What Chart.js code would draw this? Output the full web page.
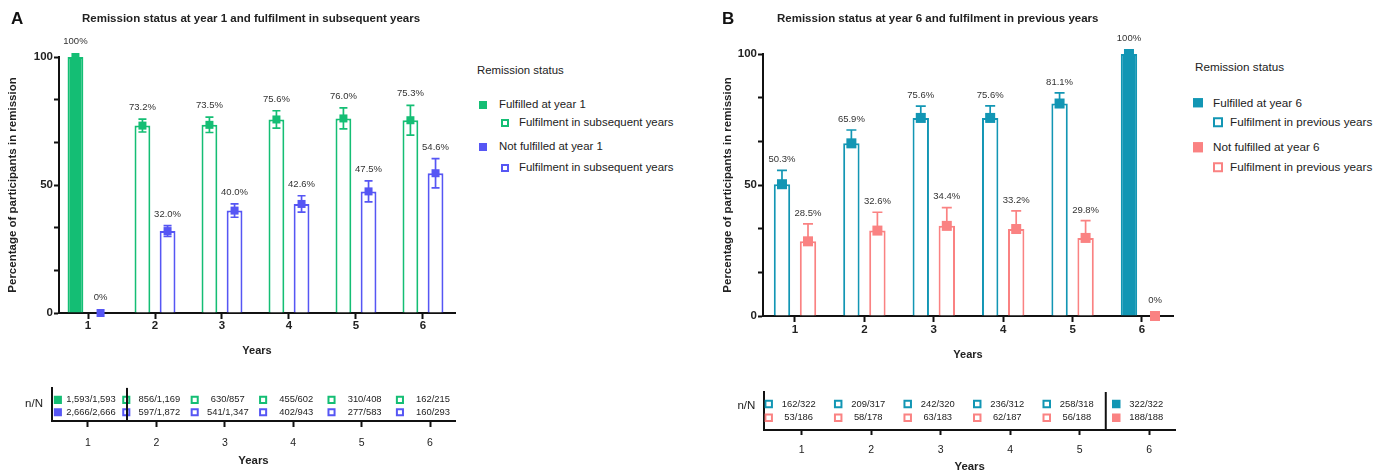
<!DOCTYPE html>
<html>
<head>
<meta charset="utf-8">
<title>Remission status</title>
<script src="https://cdn.jsdelivr.net/npm/chart.js@4.4.1/dist/chart.umd.min.js"></script>
<style>
  html, body { margin: 0; padding: 0; background: #fff; }
  body { position: relative; width: 1386px; height: 472px; overflow: hidden;
         font-family: "Liberation Sans", Arial, Helvetica, sans-serif; color: #222; }
  canvas { position: absolute; }
  .txt { position: absolute; white-space: nowrap; line-height: 1; transform: translateY(-50%); }
  .sq { position: absolute; box-sizing: border-box; transform: translateY(-50%); }
  .letter { font-size: 17px; font-weight: bold; color: #111; }
  .title { font-size: 11.5px; font-weight: bold; color: #222; }
</style>
</head>
<body>
<canvas id="mainA" width="470" height="365" style="left:0;top:0"></canvas>
<canvas id="tabA" width="470" height="100" style="left:0;top:372px"></canvas>
<canvas id="mainB" width="470" height="368" style="left:720px;top:0"></canvas>
<canvas id="tabB" width="470" height="100" style="left:720px;top:376px"></canvas>
<div id="overlay"></div>
<script>
const years = [1, 2, 3, 4, 5, 6];
const yTicks = [0, 100 / 6, 200 / 6, 50, 400 / 6, 500 / 6, 100];
const yTickLabels = [0, 50, 100];

// panel A: remission at year 1
const aFulfilled   = [100, 73.2, 73.5, 75.6, 76.0, 75.3];
const aFulfilledLo = [100, 70.7, 70.5, 72.2, 71.9, 69.5];
const aFulfilledHi = [100, 75.7, 76.5, 79.0, 80.1, 81.1];
const aNot   = [0, 32.0, 40.0, 42.6, 47.5, 54.6];
const aNotLo = [0, 29.9, 37.4, 39.4, 43.4, 48.9];
const aNotHi = [0, 34.1, 42.6, 45.8, 51.6, 60.3];
const aNFul = [1593, 856, 630, 455, 310, 162];
const aDFul = [1593, 1169, 857, 602, 408, 215];
const aNNot = [2666, 597, 541, 402, 277, 160];
const aDNot = [2666, 1872, 1347, 943, 583, 293];
const aLegend = ['Fulfilled at year 1', 'Fulfilment in subsequent years', 'Not fulfilled at year 1', 'Fulfilment in subsequent years'];

// panel B: remission at year 6
const bFulfilled   = [50.3, 65.9, 75.6, 75.6, 81.1, 100];
const bFulfilledLo = [44.8, 60.7, 70.9, 70.8, 76.8, 100];
const bFulfilledHi = [55.6, 71.0, 80.1, 80.2, 85.2, 100];
const bNot   = [28.5, 32.6, 34.4, 33.2, 29.8, 0];
const bNotLo = [22.0, 25.7, 27.5, 26.4, 23.3, 0];
const bNotHi = [35.2, 39.6, 41.4, 40.1, 36.4, 0];
const bNFul = [162, 209, 242, 236, 258, 322];
const bDFul = [322, 317, 320, 312, 318, 322];
const bNNot = [53, 58, 63, 62, 56, 188];
const bDNot = [186, 178, 183, 187, 188, 188];
const bLegend = ['Fulfilled at year 6', 'Fulfilment in previous years', 'Not fulfilled at year 6', 'Fulfilment in previous years'];

const COL = { green: '#14be74', blue: '#5656f4', teal: '#1296b4', pink: '#fa8282', axis: '#111', text: '#222' };
const FONT = '"Liberation Sans", Arial, Helvetica, sans-serif';
Chart.defaults.font.family = FONT;
Chart.defaults.color = COL.text;

const pct = v => (v === 0 || v === 100) ? v + '%' : v.toFixed(1) + '%';
const frac = (n, d) => n.toLocaleString('en-US') + '/' + d.toLocaleString('en-US');

// whiskers, square markers and % labels on top of each bar
const errorBars = {
  id: 'errorBars',
  afterDatasetsDraw(chart, args, o) {
    const ctx = chart.ctx;
    const ys = chart.scales.y;
    chart.data.datasets.forEach((ds, di) => {
      chart.getDatasetMeta(di).data.forEach((bar, i) => {
        const v = ds.data[i].y;
        const px = bar.x;
        const pv = ys.getPixelForValue(v);
        const pHi = ys.getPixelForValue(ds.errHi[i]);
        const pLo = ys.getPixelForValue(ds.errLo[i]);
        ctx.save();
        ctx.strokeStyle = ds.borderColor;
        ctx.lineWidth = o.width;
        ctx.beginPath();
        if (ds.errHi[i] > v) {
          ctx.moveTo(px, pv); ctx.lineTo(px, pHi);
          ctx.moveTo(px - o.cap / 2, pHi); ctx.lineTo(px + o.cap / 2, pHi);
        }
        if (o.twoSided && ds.errLo[i] < v) {
          ctx.moveTo(px, pv); ctx.lineTo(px, pLo);
          ctx.moveTo(px - o.cap / 2, pLo); ctx.lineTo(px + o.cap / 2, pLo);
        }
        ctx.stroke();
        ctx.fillStyle = ds.borderColor;
        ctx.fillRect(px - o.marker / 2, pv - o.marker / 2, o.marker, o.marker);
        const top = Math.min(pHi, pv - o.marker / 2);
        ctx.fillStyle = '#333';
        ctx.font = '9.5px ' + FONT;
        ctx.textAlign = 'center';
        ctx.textBaseline = 'bottom';
        ctx.fillText(pct(v), px, top - o.gap);
        ctx.restore();
      });
    });
  }
};

// n/N text next to the table squares, plus the separator line
const countLabels = {
  id: 'countLabels',
  afterDatasetsDraw(chart, args, o) {
    const ctx = chart.ctx;
    const xs = chart.scales.x;
    const area = chart.chartArea;
    ctx.save();
    ctx.fillStyle = '#222';
    ctx.font = '9.4px ' + FONT;
    ctx.textAlign = 'center';
    ctx.textBaseline = 'middle';
    chart.data.datasets.forEach((ds, di) => {
      chart.getDatasetMeta(di).data.forEach((pt, i) => {
        ctx.fillText(ds.counts[i], xs.getPixelForValue(years[i]) + o.shift, pt.y);
      });
    });
    const sx = xs.getPixelForValue(o.separator);
    ctx.strokeStyle = COL.axis;
    ctx.lineWidth = 2;
    ctx.beginPath();
    ctx.moveTo(sx, area.top);
    ctx.lineTo(sx, area.bottom);
    ctx.stroke();
    ctx.restore();
  }
};

function mainChart(id, p) {
  const ds = (label, vals, lo, hi, color) => ({
    label,
    data: years.map((x, i) => ({ x, y: vals[i] })),
    errLo: lo,
    errHi: hi,
    backgroundColor: years.map(x => x === p.solidYear ? color : '#fff'),
    borderColor: color,
    borderWidth: 2,
    borderSkipped: 'start',
    categoryPercentage: 0.75,
    barPercentage: 0.63
  });
  return new Chart(document.getElementById(id), {
    type: 'bar',
    data: {
      datasets: [
        ds(p.labels[0], p.ful, p.fulLo, p.fulHi, p.c1),
        ds(p.labels[2], p.not, p.notLo, p.notHi, p.c2)
      ]
    },
    options: {
      responsive: false,
      animation: false,
      layout: { padding: { top: p.top, right: p.right, left: 0, bottom: 0 } },
      plugins: { legend: { display: false }, tooltip: { enabled: false }, errorBars: p.err },
      scales: {
        x: {
          type: 'linear', min: p.xMin, max: p.xMax, offset: false,
          afterBuildTicks: s => { s.ticks = years.map(v => ({ value: v })); },
          afterFit: s => { s.height = p.xH; },
          grid: { offset: false, drawOnChartArea: false, tickLength: 6, tickWidth: 2, tickColor: COL.axis },
          border: { color: COL.axis, width: 2 },
          ticks: { padding: p.xPad, font: { size: 11.5, weight: 'bold' }, color: COL.text },
          title: { display: true, text: 'Years', color: COL.text, font: { size: 11, weight: 'bold' }, padding: { top: 0, bottom: p.xTitlePad } }
        },
        y: {
          min: 0, max: 100,
          afterBuildTicks: s => { s.ticks = yTicks.map(v => ({ value: v })); },
          afterFit: s => { s.width = p.yW; },
          grid: { drawOnChartArea: false, tickLength: 5, tickWidth: 2, tickColor: COL.axis },
          border: { color: COL.axis, width: 2 },
          ticks: { padding: 1, font: { size: 11.5, weight: 'bold' }, color: COL.text,
                   callback: v => yTickLabels.includes(v) ? String(v) : '' },
          title: { display: true, text: 'Percentage of participants in remission', color: COL.text,
                   font: { size: 11.5, weight: 'bold' }, padding: { top: p.yTitlePad, bottom: 0 } }
        }
      }
    },
    plugins: [errorBars]
  });
}

function tableChart(id, p) {
  const row = (label, yv, nArr, dArr, color) => ({
    label,
    data: years.map(x => ({ x: x - p.sqShift, y: yv })),
    counts: years.map((x, i) => frac(nArr[i], dArr[i])),
    pointStyle: 'rect',
    pointRadius: p.sqR,
    pointHoverRadius: p.sqR,
    pointBorderWidth: 2,
    pointBorderColor: color,
    pointBackgroundColor: years.map(x => x === p.solidYear ? color : '#fff')
  });
  return new Chart(document.getElementById(id), {
    type: 'scatter',
    data: {
      datasets: [
        row('fulfilled', 2, p.n1, p.d1, p.c1),
        row('not fulfilled', 1, p.n2, p.d2, p.c2)
      ]
    },
    options: {
      responsive: false,
      animation: false,
      layout: { padding: { top: p.top, right: p.right, left: 0, bottom: 0 } },
      plugins: { legend: { display: false }, tooltip: { enabled: false }, countLabels: { shift: p.textShift, separator: p.separator } },
      scales: {
        x: {
          type: 'linear', min: p.xMin, max: p.xMax,
          afterBuildTicks: s => { s.ticks = years.map(v => ({ value: v })); },
          afterFit: s => { s.height = p.xH; },
          grid: { drawOnChartArea: false, tickLength: p.tickLen, tickWidth: 2, tickColor: COL.axis },
          border: { color: COL.axis, width: 2 },
          ticks: { padding: p.xPad, font: { size: 10.5 }, color: COL.text },
          title: { display: true, text: 'Years', color: COL.text, font: { size: 11.4, weight: 'bold' }, padding: { top: 0, bottom: p.xTitlePad } }
        },
        y: {
          type: 'linear', min: p.yMin, max: p.yMax,
          afterBuildTicks: s => { s.ticks = [{ value: p.nAt }]; },
          afterFit: s => { s.width = p.yW; },
          grid: { drawOnChartArea: false, drawTicks: false },
          border: { color: COL.axis, width: 2 },
          ticks: { padding: 9, font: { size: 11.5 }, color: COL.text, callback: () => 'n/N' }
        }
      }
    },
    plugins: [countLabels]
  });
}

mainChart('mainA', {
  ful: aFulfilled, fulLo: aFulfilledLo, fulHi: aFulfilledHi,
  not: aNot, notLo: aNotLo, notHi: aNotHi,
  labels: aLegend, c1: COL.green, c2: COL.blue, solidYear: 1,
  top: 57, right: 15, yW: 59, xH: 52, xMin: 0.567, xMax: 6.478,
  xPad: 0, xTitlePad: 7.9, yTitlePad: 6.4,
  err: { twoSided: true, width: 1.7, cap: 8, marker: 8, gap: 7 }
});
mainChart('mainB', {
  ful: bFulfilled, fulLo: bFulfilledLo, fulHi: bFulfilledHi,
  not: bNot, notLo: bNotLo, notHi: bNotHi,
  labels: bLegend, c1: COL.teal, c2: COL.pink, solidYear: 6,
  top: 54, right: 17, yW: 43, xH: 52, xMin: 0.539, xMax: 6.447,
  xPad: 1.4, xTitlePad: 6.7, yTitlePad: 1.1,
  err: { twoSided: false, width: 1.7, cap: 10, marker: 10, gap: 6 }
});
tableChart('tabA', {
  n1: aNFul, d1: aDFul, n2: aNNot, d2: aDNot, c1: COL.green, c2: COL.blue, solidYear: 1,
  top: 11, right: 15, yW: 52, xH: 51, xMin: 0.474, xMax: 6.365, yMin: 0.3, yMax: 2.96,
  nAt: 1.65, sqShift: 0.44, sqR: 4.3, textShift: 3, separator: 1.57,
  tickLen: 6, xPad: 9.4, xTitlePad: 4.2
});
tableChart('tabB', {
  n1: bNFul, d1: bDFul, n2: bNNot, d2: bDNot, c1: COL.teal, c2: COL.pink, solidYear: 6,
  top: 16, right: 15, yW: 44.3, xH: 46, xMin: 0.462, xMax: 6.37, yMin: 0.1, yMax: 2.88,
  nAt: 1.85, sqShift: 0.475, sqR: 4.6, textShift: -3, separator: 5.374,
  tickLen: 5, xPad: 8.7, xTitlePad: 2.2
});

// panel letters, titles and legends
const overlay = document.getElementById('overlay');
function addText(text, x, y, cls, style) {
  const d = document.createElement('div');
  d.className = 'txt ' + (cls || '');
  d.textContent = text;
  d.style.left = x + 'px';
  d.style.top = y + 'px';
  if (style) Object.assign(d.style, style);
  overlay.appendChild(d);
}
function addSquare(x, y, size, color, solid) {
  const d = document.createElement('div');
  d.className = 'sq';
  Object.assign(d.style, {
    left: x + 'px', top: y + 'px', width: size + 'px', height: size + 'px',
    border: '2px solid ' + color, background: solid ? color : '#fff'
  });
  overlay.appendChild(d);
}
function legend(labels, c1, c2, g) {
  addText('Remission status', g.x, g.titleY, '', { fontSize: g.font + 'px' });
  labels.forEach((lab, i) => {
    const solid = i % 2 === 0;
    const color = i < 2 ? c1 : c2;
    const sx = solid ? g.x + g.solidDx : g.x + g.hollowDx;
    addSquare(sx, g.rows[i], g.sq, color, solid);
    addText(lab, solid ? g.x + g.textDx : g.x + g.text2Dx, g.rows[i], '', { fontSize: g.font + 'px' });
  });
}

addText('A', 11, 18, 'letter');
addText('Remission status at year 1 and fulfilment in subsequent years', 82, 19, 'title');
addText('B', 722, 18, 'letter');
addText('Remission status at year 6 and fulfilment in previous years', 777, 19, 'title');

legend(aLegend, COL.green, COL.blue, {
  x: 477, titleY: 70.7, rows: [105, 123, 147, 168], font: 11.4, sq: 8,
  solidDx: 2, hollowDx: 24, textDx: 22, text2Dx: 42
});
legend(bLegend, COL.teal, COL.pink, {
  x: 1195, titleY: 67, rows: [102.7, 122, 147, 167], font: 11.7, sq: 9.5,
  solidDx: -2, hollowDx: 18, textDx: 18, text2Dx: 35
});
</script>
</body>
</html>
